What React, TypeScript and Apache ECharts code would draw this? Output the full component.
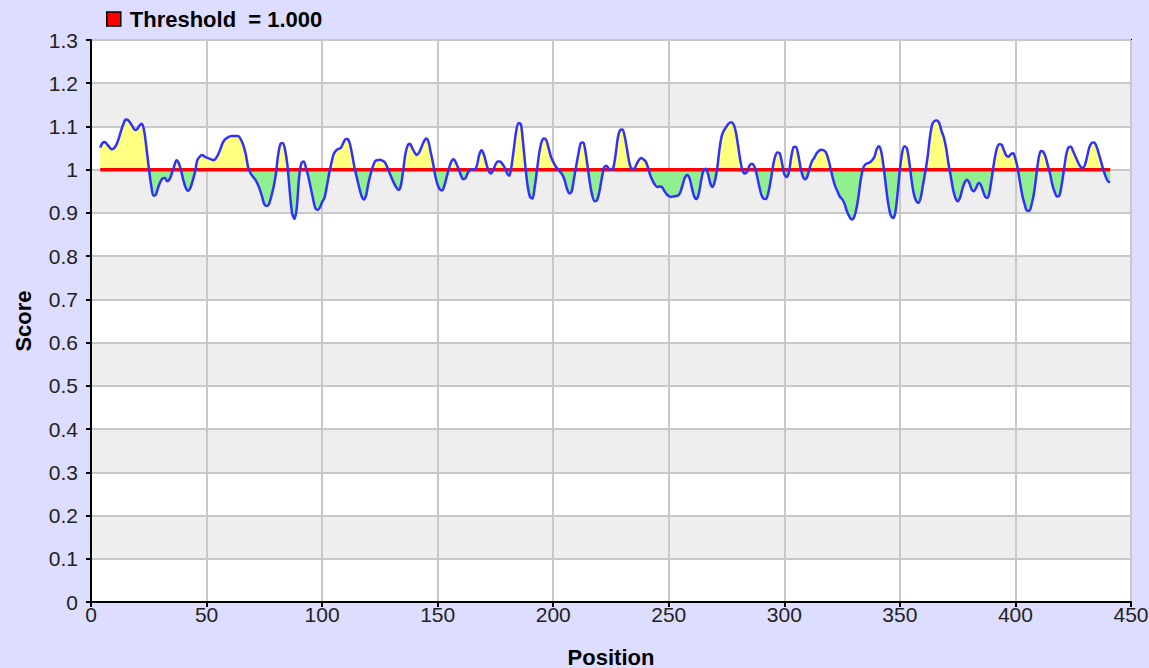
import React, { useEffect, useRef } from "react";
import * as echarts from "echarts";

// First sequence position that carries a score
const firstPosition = 4;

// Score per position, starting at firstPosition (4 ... 441)
const scores: number[] = [
  1.051, 1.062, 1.064, 1.058, 1.052, 1.047, 1.050, 1.058, 1.072, 1.090,
  1.105, 1.116, 1.115, 1.108, 1.100, 1.092, 1.094, 1.102, 1.106, 1.090,
  1.050, 1.005, 0.965, 0.940, 0.942, 0.958, 0.972, 0.980, 0.981, 0.973,
  0.978, 0.992, 1.008, 1.022, 1.015, 0.997, 0.975, 0.958, 0.951, 0.958,
  0.975, 0.995, 1.022, 1.030, 1.034, 1.031, 1.028, 1.026, 1.024, 1.022,
  1.026, 1.035, 1.048, 1.062, 1.070, 1.074, 1.077, 1.078, 1.078, 1.078,
  1.077, 1.068, 1.055, 1.035, 1.005, 0.992, 0.984, 0.978, 0.968, 0.955,
  0.938, 0.920, 0.916, 0.920, 0.938, 0.960, 0.990, 1.035, 1.060, 1.062,
  1.045, 1.010, 0.950, 0.900, 0.886, 0.910, 0.980, 1.015, 1.019, 1.005,
  0.985, 0.960, 0.935, 0.912, 0.907, 0.912, 0.925, 0.935, 0.960, 0.990,
  1.015, 1.036, 1.044, 1.048, 1.050, 1.060, 1.070, 1.071, 1.060, 1.035,
  1.005, 0.982, 0.960, 0.940, 0.931, 0.940, 0.968, 0.990, 1.008, 1.020,
  1.022, 1.023, 1.021, 1.018, 1.008, 0.995, 0.982, 0.970, 0.960, 0.953,
  0.962, 0.995, 1.035, 1.056, 1.060, 1.050, 1.040, 1.034, 1.040, 1.052,
  1.065, 1.072, 1.065, 1.040, 1.015, 0.985, 0.965, 0.954, 0.952, 0.965,
  0.985, 1.005, 1.020, 1.024, 1.015, 1.002, 0.988, 0.978, 0.980, 0.992,
  0.999, 1.001, 1.001, 1.010, 1.035, 1.045, 1.035, 1.015, 0.998, 0.991,
  0.998, 1.012, 1.019, 1.019, 1.013, 1.005, 0.992, 0.986, 1.010, 1.050,
  1.090, 1.108, 1.105, 1.060, 1.005, 0.960, 0.937, 0.933, 0.960, 1.000,
  1.040, 1.065, 1.072, 1.068, 1.050, 1.030, 1.018, 1.008, 1.001, 0.995,
  0.988, 0.975, 0.955, 0.945, 0.950, 0.980, 1.010, 1.040, 1.062, 1.063,
  1.040, 1.003, 0.965, 0.938, 0.927, 0.930, 0.950, 0.980, 1.005, 1.009,
  1.003, 1.000, 1.005, 1.035, 1.075, 1.092, 1.093, 1.075, 1.045, 1.015,
  1.002, 1.002, 1.012, 1.022, 1.027, 1.024, 1.019, 1.005, 0.987, 0.975,
  0.965, 0.960, 0.961, 0.960, 0.952, 0.944, 0.939, 0.937, 0.938, 0.939,
  0.940, 0.948, 0.965, 0.982, 0.988, 0.980, 0.958, 0.938, 0.932, 0.945,
  0.975, 0.998, 1.002, 0.990, 0.968, 0.960, 0.975, 1.005, 1.050, 1.080,
  1.092, 1.100, 1.107, 1.110, 1.105, 1.088, 1.055, 1.020, 0.997, 0.991,
  0.996, 1.010, 1.014, 1.008, 0.990, 0.965, 0.943, 0.933, 0.932, 0.945,
  0.972, 1.005, 1.030, 1.040, 1.038, 1.015, 0.990, 0.983, 0.995, 1.030,
  1.052, 1.053, 1.035, 1.005, 0.985, 0.978, 0.985, 1.005, 1.020, 1.028,
  1.038, 1.044, 1.046, 1.045, 1.040, 1.025, 1.003, 0.980, 0.962, 0.950,
  0.938, 0.932, 0.922, 0.905, 0.893, 0.885, 0.888, 0.905, 0.935, 0.975,
  1.002, 1.012, 1.015, 1.017, 1.022, 1.030, 1.048, 1.054, 1.040, 1.005,
  0.960, 0.920, 0.895, 0.888, 0.900, 0.945, 1.000, 1.040, 1.054, 1.050,
  1.020, 0.978, 0.945, 0.928, 0.923, 0.935, 0.965, 0.995, 1.030, 1.075,
  1.105, 1.113, 1.114, 1.108, 1.090, 1.075, 1.050, 1.015, 0.985, 0.955,
  0.935, 0.927, 0.935, 0.955, 0.970, 0.977, 0.970, 0.955, 0.950, 0.958,
  0.969, 0.965, 0.950, 0.937, 0.935, 0.955, 0.990, 1.025, 1.050, 1.059,
  1.058, 1.045, 1.033, 1.030, 1.036, 1.038, 1.025, 1.002, 0.970, 0.940,
  0.920, 0.905, 0.905, 0.920, 0.945, 0.985, 1.025, 1.043, 1.042, 1.030,
  1.010, 0.990, 0.965, 0.948, 0.938, 0.940, 0.965, 1.000, 1.035, 1.052,
  1.053, 1.042, 1.030, 1.018, 1.008, 1.004, 1.010, 1.030, 1.052, 1.062,
  1.063, 1.055, 1.038, 1.020, 1.000, 0.985, 0.973, 0.971,
];

const thresholdValue = 1.0;
const thresholdLabel = "Threshold  = 1.000";

const xTicks = { min: 0, max: 450, interval: 50 };
const yTicks = { min: 0, max: 1.3, interval: 0.1 };

const FONT = "'Liberation Sans', Arial, sans-serif";
const SMOOTH = 0.3;

export default function App() {
  const ref = useRef<HTMLDivElement>(null);

  useEffect(() => {
    if (!ref.current) return;
    const chart = echarts.init(ref.current, null, { renderer: "svg" });

    const points = scores.map((v, i) => [firstPosition + i, v]);
    const abovePoints = scores.map((v, i) => [firstPosition + i, Math.max(v, thresholdValue)]);
    const belowPoints = scores.map((v, i) => [firstPosition + i, Math.min(v, thresholdValue)]);
    const lastPosition = firstPosition + scores.length - 1;
    const thresholdData = [
      [firstPosition, thresholdValue],
      [lastPosition, thresholdValue],
    ];

    chart.setOption({
      animation: false,
      backgroundColor: "#DDDDFF",
      textStyle: { fontFamily: FONT },
      grid: {
        left: 91,
        right: 18,
        top: 40,
        bottom: 66,
        outerBoundsMode: "none",
        containLabel: false,
        show: true,
        backgroundColor: "#ffffff",
        borderColor: "#000000",
        borderWidth: 2,
      },
      legend: {
        left: 106,
        top: 8,
        padding: 0,
        itemWidth: 14,
        itemHeight: 14,
        selectedMode: false,
        data: [
          {
            name: thresholdLabel,
            icon: "rect",
            itemStyle: { color: "#ff0000", borderColor: "#000000", borderWidth: 1.5 },
          },
        ],
        textStyle: {
          fontFamily: FONT,
          fontSize: 22,
          fontWeight: "bold",
          color: "#000000",
          padding: [0, 0, 0, 4],
        },
      },
      xAxis: {
        type: "value",
        min: xTicks.min,
        max: xTicks.max,
        interval: xTicks.interval,
        name: "Position",
        nameLocation: "middle",
        nameGap: 44,
        nameTextStyle: { fontFamily: FONT, fontSize: 22, fontWeight: "bold", color: "#000" },
        axisLine: { show: true, onZero: false, lineStyle: { color: "#000", width: 2 } },
        axisTick: { show: true, length: 5, lineStyle: { color: "#000", width: 2 } },
        axisLabel: { fontFamily: FONT, fontSize: 21, color: "#222", margin: 2 },
        splitLine: { show: true, lineStyle: { color: "#c8c8c8", width: 2 } },
      },
      yAxis: {
        type: "value",
        min: yTicks.min,
        max: yTicks.max,
        interval: yTicks.interval,
        name: "Score",
        nameLocation: "middle",
        nameGap: 57,
        nameTextStyle: { fontFamily: FONT, fontSize: 22, fontWeight: "bold", color: "#000" },
        axisLine: { show: true, onZero: false, lineStyle: { color: "#000", width: 2 } },
        axisTick: { show: true, length: 5, lineStyle: { color: "#000", width: 2 } },
        axisLabel: {
          fontFamily: FONT,
          fontSize: 21,
          color: "#222",
          margin: 13,
          formatter: (v: number) => String(Math.round(v * 10) / 10),
        },
        splitLine: { show: true, lineStyle: { color: "#c8c8c8", width: 2 } },
        splitArea: { show: true, areaStyle: { color: ["#ffffff", "#eeeeee"] } },
      },
      series: [
        {
          name: "above",
          type: "line",
          data: abovePoints,
          smooth: SMOOTH,
          symbol: "none",
          color: "#ffff80",
          lineStyle: { width: 0 },
          areaStyle: { origin: thresholdValue, color: "#ffff80", opacity: 1 },
          silent: true,
          z: 2,
        },
        {
          name: "below",
          type: "line",
          data: belowPoints,
          smooth: SMOOTH,
          symbol: "none",
          color: "#90f090",
          lineStyle: { width: 0 },
          areaStyle: { origin: thresholdValue, color: "#90f090", opacity: 1 },
          silent: true,
          z: 2,
        },
        {
          name: thresholdLabel,
          type: "line",
          data: thresholdData,
          symbol: "none",
          color: "#ff0000",
          lineStyle: { color: "#ff0000", width: 3.5 },
          z: 3,
        },
        {
          name: "score",
          type: "line",
          data: points,
          smooth: SMOOTH,
          symbol: "none",
          color: "#3030ff",
          lineStyle: { color: "#3030ff", width: 2.5 },
          z: 4,
        },
      ],
    });

    return () => chart.dispose();
  }, []);

  return (
    <div
      ref={ref}
      style={{ position: "fixed", left: 0, top: 0, width: 1149, height: 668 }}
    />
  );
}
